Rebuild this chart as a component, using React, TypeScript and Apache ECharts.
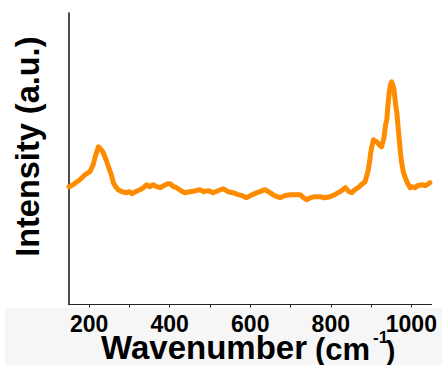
import React, { useEffect, useRef } from "react";
import * as echarts from "echarts";

const wavenumbers = [
  150, 160, 170, 177, 190, 202, 210, 215, 223, 230, 235, 242, 248, 255, 260, 266, 272, 282, 293, 300,
  306, 315, 326, 335, 343, 350, 359, 368, 376, 385, 395, 401, 410, 417, 428, 438, 450, 465, 475, 485,
  495, 508, 520, 532, 545, 557, 570, 580, 591, 600, 610, 624, 637, 649, 660, 674, 685, 699, 710, 724,
  732, 740, 750, 760, 773, 785, 798, 810, 823, 830, 836, 845, 852, 860, 868, 876, 885, 890, 893, 897,
  899, 903, 906, 910, 914, 920, 926, 932, 936, 939, 942, 945, 948, 951, 954, 957, 961, 964, 967, 970,
  973, 976, 980, 984, 990, 997, 1003, 1009, 1015, 1026, 1035, 1046,
];
const intensities = [
  118, 120, 123, 125, 130, 133, 140, 148, 158, 155, 152, 145, 138, 130, 122, 118, 115, 113, 112, 113,
  111, 113, 115, 117, 120, 118, 120, 118, 117, 119, 121, 121, 118, 117, 114, 112, 113, 114, 115, 113,
  114, 112, 114, 116, 113, 112, 110, 109, 107, 109, 111, 113, 115, 112, 109, 107, 109, 110, 110, 110,
  107, 105, 107, 108, 108, 107, 108, 110, 113, 115, 117, 113, 112, 115, 117, 120, 123, 130, 135, 145,
  152, 160, 165, 164, 163, 160, 158, 167, 180, 185, 200, 212, 220, 223, 220, 215, 200, 192, 178, 165,
  152, 142, 133, 128, 122, 117, 118, 117, 119, 120, 119, 122,
];
const labelTicks = [200, 400, 600, 800, 1000];
const minorTicks = [200, 300, 400, 500, 600, 700, 800, 900, 1000];
const xRange = [150, 1050];
const yRange = [0, 292];

const yTitle = "Intensity (a.u.)";
const xTitleMain = "Wavenumber";
const xTitleUnit = "(cm";
const xTitleSup = "-1";
const xTitleClose = ")";

export default function App() {
  const ref = useRef<HTMLDivElement>(null);
  useEffect(() => {
    const chart = echarts.init(ref.current!, null, { renderer: "svg" });
    const data = wavenumbers.map((w, i) => [w, intensities[i]]);
    const font = "'Liberation Sans', Arial, sans-serif";
    const txt = (
      text: string,
      x: number,
      y: number,
      fontSize: number,
      lineHeight: number,
      extra: any = {}
    ) => ({
      type: "text",
      x,
      y,
      ...extra,
      style: {
        text,
        fontSize,
        lineHeight,
        fontWeight: "bold",
        fontFamily: font,
        fill: "#000",
        align: extra.align || "left",
        verticalAlign: "top",
      },
    });
    chart.setOption({
      animation: false,
      backgroundColor: "#ffffff",
      grid: { left: 69, right: 10.5, top: 13, bottom: 60.5 },
      xAxis: {
        type: "value",
        min: xRange[0],
        max: xRange[1],
        splitLine: { show: false },
        axisLine: { lineStyle: { color: "#222", width: 1 } },
        axisTick: { show: true, length: 3, customValues: minorTicks, lineStyle: { color: "#222" } },
        axisLabel: {
          customValues: labelTicks,
          formatter: (v: number) => String(v),
          margin: 10.5,
          fontSize: 23,
          lineHeight: 18,
          fontWeight: "bold",
          fontFamily: font,
          color: "#000",
        },
      },
      yAxis: {
        type: "value",
        min: yRange[0],
        max: yRange[1],
        splitLine: { show: false },
        axisLine: { show: true, lineStyle: { color: "#111", width: 1.5 } },
        axisTick: { show: false },
        axisLabel: { show: false },
      },
      graphic: [
        {
          type: "rect",
          z: -10,
          silent: true,
          shape: { x: 5, y: 308, width: 437, height: 57 },
          style: { fill: "#f6f6f6" },
        },
        txt(yTitle, 12, 146.7, 32.5, 32.5, { rotation: Math.PI / 2, align: "center" }),
        txt(xTitleMain, 101, 335.5, 33, 24),
        txt(xTitleUnit, 315, 338, 31, 22),
        txt(xTitleSup, 373, 331, 17, 12),
        txt(xTitleClose, 386, 340, 28, 20),
      ],
      series: [
        {
          type: "line",
          data,
          showSymbol: false,
          smooth: false,
          lineStyle: { color: "#ff8c00", width: 5, join: "round", cap: "round" },
          z: 3,
        },
      ],
    });
    return () => chart.dispose();
  }, []);
  return (
    <div
      ref={ref}
      style={{ position: "fixed", left: 0, top: 0, width: 442, height: 365 }}
    />
  );
}
